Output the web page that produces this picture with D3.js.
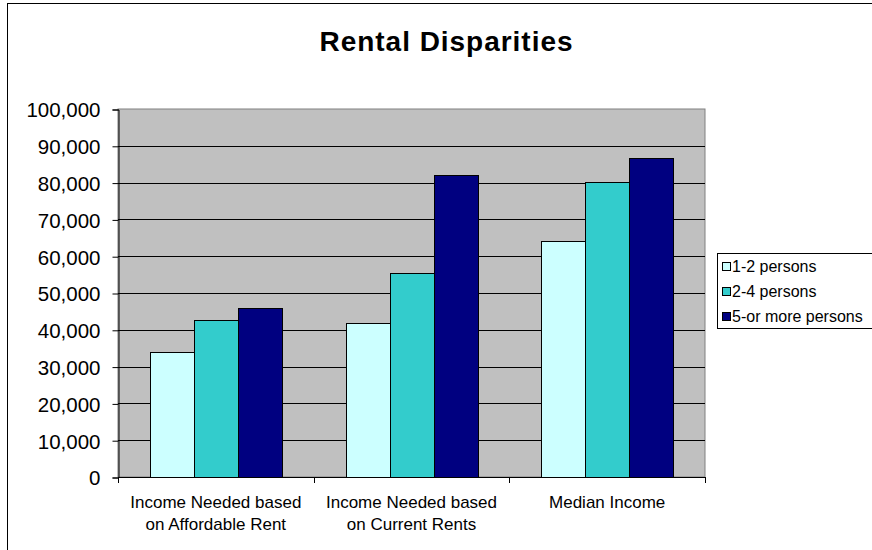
<!DOCTYPE html>
<html>
<head>
<meta charset="utf-8">
<script src="https://cdn.jsdelivr.net/npm/d3@7"></script>
<style>
  body { margin: 0; background: #fff; }
  svg { display: block; font-family: Arial, "Liberation Sans", sans-serif; }
</style>
</head>
<body>
<svg id="chart" width="872" height="550"></svg>
<script>
// Chart data
var categories = [["Income Needed based", "on Affordable Rent"],
                  ["Income Needed based", "on Current Rents"],
                  ["Median Income"]];
var seriesNames = ["1-2 persons", "2-4 persons", "5-or more persons"];
var seriesColors = ["#CCFFFF", "#33CCCC", "#000080"];
var persons12 = [34000, 41800, 64000];
var persons24 = [42700, 55400, 80200];
var persons5 = [45900, 82000, 86700];
var yTicks = [0, 10000, 20000, 30000, 40000, 50000, 60000, 70000, 80000, 90000, 100000];

var seriesValues = [persons12, persons24, persons5];

var svg = d3.select('#chart');
var plot = {left: 118, right: 705, top: 109, bottom: 477};

// outer chart border (runs off the right and bottom edges)
svg.append('rect')
    .attr('x', 7.5).attr('y', 3.5)
    .attr('width', 900).attr('height', 600)
    .attr('fill', '#fff')
    .attr('stroke', '#000')
    .attr('stroke-width', 1);

// title
svg.append('text')
    .attr('x', 446).attr('y', 51)
    .attr('text-anchor', 'middle')
    .attr('font-size', '28px')
    .attr('font-weight', 'bold')
    .attr('textLength', 253)
    .attr('lengthAdjust', 'spacing')
    .text('Rental Disparities');

var catIndex = d3.range(categories.length);
var x0 = d3.scaleBand()
    .domain(catIndex)
    .range([plot.left, plot.right])
    .padding(0);
var bw = x0.bandwidth();
var x1 = d3.scaleBand()
    .domain(d3.range(seriesNames.length))
    .range([bw * 0.1635, bw * 0.838])
    .padding(0);
var y = d3.scaleLinear()
    .domain([0, 100000])
    .range([plot.bottom, plot.top]);

// plot background
svg.append('rect')
    .attr('x', plot.left).attr('y', plot.top)
    .attr('width', plot.right - plot.left)
    .attr('height', plot.bottom - plot.top)
    .attr('fill', '#C0C0C0')
    .attr('stroke', '#808080')
    .attr('stroke-width', 1);

// gridlines
svg.append('g')
  .selectAll('line')
  .data(yTicks.slice(1, -1))
  .join('line')
    .attr('x1', plot.left).attr('x2', plot.right)
    .attr('y1', function(d) { return Math.round(y(d)) + 0.5; })
    .attr('y2', function(d) { return Math.round(y(d)) + 0.5; })
    .attr('stroke', '#000')
    .attr('stroke-width', 1);

// bars
var rows = [];
catIndex.forEach(function(c) {
    seriesValues.forEach(function(vals, s) {
        rows.push({c: c, s: s, v: vals[c]});
    });
});
svg.append('g')
  .selectAll('rect')
  .data(rows)
  .join('rect')
    .attr('x', function(d) { return Math.round(x0(d.c) + x1(d.s)) + 0.5; })
    .attr('y', function(d) { return Math.round(y(d.v)) + 0.5; })
    .attr('width', function(d) { return Math.round(x1.bandwidth()); })
    .attr('height', function(d) { return Math.round(y(0)) - Math.round(y(d.v)); })
    .attr('fill', function(d) { return seriesColors[d.s]; })
    .attr('stroke', '#000')
    .attr('stroke-width', 1);

// y axis
var yAxis = d3.axisLeft(y)
    .tickValues(yTicks)
    .tickSize(6)
    .tickPadding(12)
    .tickFormat(d3.format(','));
var gy = svg.append('g')
    .attr('transform', 'translate(' + (plot.left + 0.5) + ',0.5)')
    .call(yAxis);
gy.select('.domain').attr('stroke', '#000');
gy.selectAll('.tick line').attr('stroke', '#000');
gy.selectAll('.tick text')
    .attr('font-size', '20.5px')
    .attr('font-family', 'Arial, "Liberation Sans", sans-serif')
    .attr('fill', '#000')
    .attr('dy', '0.36em');

// x axis
svg.append('line')
    .attr('x1', plot.left).attr('x2', plot.right)
    .attr('y1', plot.bottom + 0.5).attr('y2', plot.bottom + 0.5)
    .attr('stroke', '#000');
svg.append('g')
  .selectAll('line')
  .data(d3.range(categories.length + 1))
  .join('line')
    .attr('x1', function(i) { return Math.round(plot.left + i * bw) + 0.5; })
    .attr('x2', function(i) { return Math.round(plot.left + i * bw) + 0.5; })
    .attr('y1', plot.bottom).attr('y2', plot.bottom + 6)
    .attr('stroke', '#000');

// category labels
var labels = svg.append('g')
  .selectAll('text')
  .data(catIndex)
  .join('text')
    .attr('x', function(c) { return x0(c) + bw / 2; })
    .attr('y', 508)
    .attr('text-anchor', 'middle')
    .attr('font-size', '17px')
    .attr('fill', '#000');
labels.selectAll('tspan')
  .data(function(c) { return categories[c]; })
  .join('tspan')
    .attr('x', function() { return d3.select(this.parentNode).attr('x'); })
    .attr('dy', function(d, i) { return i === 0 ? 0 : 22; })
    .text(function(d) { return d; });

// legend
var legend = svg.append('g');
legend.append('rect')
    .attr('x', 717.5).attr('y', 253.5)
    .attr('width', 160).attr('height', 75)
    .attr('fill', '#fff')
    .attr('stroke', '#000');
var items = legend.selectAll('g.item')
  .data(seriesNames)
  .join('g')
    .attr('class', 'item')
    .attr('transform', function(d, i) { return 'translate(722,' + (262 + i * 25) + ')'; });
items.append('rect')
    .attr('x', 0.5).attr('y', 0.5)
    .attr('width', 8).attr('height', 8)
    .attr('fill', function(d, i) { return seriesColors[i]; })
    .attr('stroke', '#000');
items.append('text')
    .attr('x', 10).attr('y', 10)
    .attr('font-size', '16px')
    .attr('fill', '#000')
    .text(function(d) { return d; });
</script>
</body>
</html>
